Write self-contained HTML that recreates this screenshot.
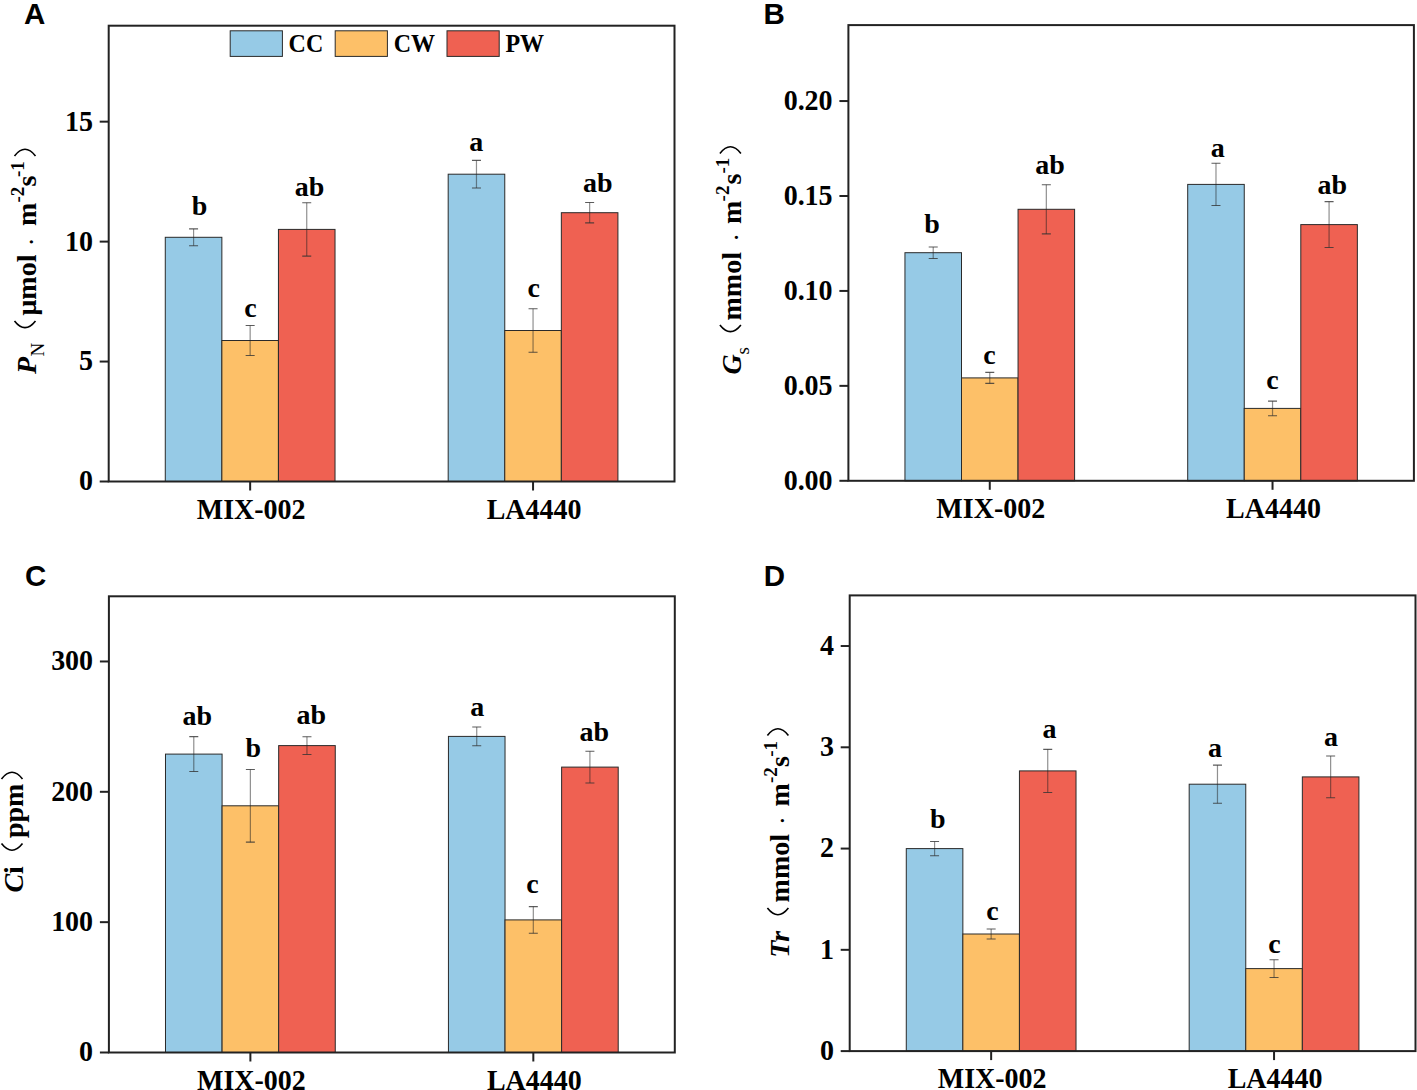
<!DOCTYPE html>
<html><head><meta charset="utf-8"><style>
html,body{margin:0;padding:0;background:#fff;overflow:hidden;}
svg{display:block;}
.s{font-family:"Liberation Serif", serif;font-weight:bold;font-size:28px;fill:#000;}
.n{font-family:"Liberation Serif", serif;font-weight:normal;font-size:28px;fill:#000;}
.bi{font-family:"Liberation Serif", serif;font-weight:bold;font-style:italic;font-size:28px;fill:#000;}
.sub{font-family:"Liberation Serif", serif;font-weight:normal;font-size:19px;fill:#000;}
.sup{font-family:"Liberation Serif", serif;font-weight:bold;font-size:19px;fill:#000;}
.lg{font-family:"Liberation Serif", serif;font-weight:bold;font-size:24px;fill:#000;}
.pl{font-family:"Liberation Sans", sans-serif;font-weight:bold;font-size:29.5px;fill:#000;}
</style></head><body>
<svg width="1417" height="1090" viewBox="0 0 1417 1090">
<rect width="1417" height="1090" fill="#fff"/>
<rect x="165.28" y="237.3" width="56.58" height="244.2" fill="#96CAE6" stroke="#2a2a2a" stroke-width="1"/>
<rect x="221.86" y="340.5" width="56.58" height="141" fill="#FDC068" stroke="#2a2a2a" stroke-width="1"/>
<rect x="278.44" y="229.4" width="56.58" height="252.1" fill="#EF6152" stroke="#2a2a2a" stroke-width="1"/>
<path d="M193.57 228.9V245.7" stroke="#222" stroke-opacity="0.5" stroke-width="1.2" fill="none"/>
<path d="M189.07 228.9H198.07M189.07 245.7H198.07" stroke="#333" stroke-opacity="0.8" stroke-width="1.1" fill="none"/>
<path d="M250.15 325.5V355.5" stroke="#222" stroke-opacity="0.5" stroke-width="1.2" fill="none"/>
<path d="M245.65 325.5H254.65M245.65 355.5H254.65" stroke="#333" stroke-opacity="0.8" stroke-width="1.1" fill="none"/>
<path d="M306.73 202.7V256.1" stroke="#222" stroke-opacity="0.5" stroke-width="1.2" fill="none"/>
<path d="M302.23 202.7H311.23M302.23 256.1H311.23" stroke="#333" stroke-opacity="0.8" stroke-width="1.1" fill="none"/>
<text x="199.42" y="214.5" class="s" text-anchor="middle">b</text>
<text x="250.35" y="317.1" class="s" text-anchor="middle">c</text>
<text x="309.58" y="196.2" class="s" text-anchor="middle">ab</text>
<rect x="448.18" y="174.2" width="56.58" height="307.3" fill="#96CAE6" stroke="#2a2a2a" stroke-width="1"/>
<rect x="504.76" y="330.5" width="56.58" height="151" fill="#FDC068" stroke="#2a2a2a" stroke-width="1"/>
<rect x="561.34" y="212.7" width="56.58" height="268.8" fill="#EF6152" stroke="#2a2a2a" stroke-width="1"/>
<path d="M476.47 160.4V188" stroke="#222" stroke-opacity="0.5" stroke-width="1.2" fill="none"/>
<path d="M471.97 160.4H480.97M471.97 188H480.97" stroke="#333" stroke-opacity="0.8" stroke-width="1.1" fill="none"/>
<path d="M533.05 308.8V352.2" stroke="#222" stroke-opacity="0.5" stroke-width="1.2" fill="none"/>
<path d="M528.55 308.8H537.55M528.55 352.2H537.55" stroke="#333" stroke-opacity="0.8" stroke-width="1.1" fill="none"/>
<path d="M589.63 202.5V222.9" stroke="#222" stroke-opacity="0.5" stroke-width="1.2" fill="none"/>
<path d="M585.13 202.5H594.13M585.13 222.9H594.13" stroke="#333" stroke-opacity="0.8" stroke-width="1.1" fill="none"/>
<text x="476.37" y="151.1" class="s" text-anchor="middle">a</text>
<text x="533.8" y="296.8" class="s" text-anchor="middle">c</text>
<text x="597.73" y="192.1" class="s" text-anchor="middle">ab</text>
<rect x="108.7" y="25.7" width="565.8" height="455.8" fill="none" stroke="#222" stroke-width="2"/>
<path d="M99.7 481.5H108.7" stroke="#222" stroke-width="2"/>
<text transform="translate(92.9,490.4) scale(1,1.05)" class="s" text-anchor="end">0</text>
<path d="M99.7 361.55H108.7" stroke="#222" stroke-width="2"/>
<text transform="translate(92.9,370.45) scale(1,1.05)" class="s" text-anchor="end">5</text>
<path d="M99.7 241.61H108.7" stroke="#222" stroke-width="2"/>
<text transform="translate(92.9,250.51) scale(1,1.05)" class="s" text-anchor="end">10</text>
<path d="M99.7 121.66H108.7" stroke="#222" stroke-width="2"/>
<text transform="translate(92.9,130.56) scale(1,1.05)" class="s" text-anchor="end">15</text>
<path d="M250.15 481.5V490.5" stroke="#222" stroke-width="2"/>
<text transform="translate(251.15,518.8) scale(1,1.04)" class="s" text-anchor="middle">MIX-002</text>
<path d="M533.05 481.5V490.5" stroke="#222" stroke-width="2"/>
<text transform="translate(534.05,518.8) scale(1,1.04)" class="s" text-anchor="middle">LA4440</text>
<text x="24.1" y="24.3" class="pl">A</text>
<rect x="904.95" y="252.7" width="56.55" height="228.1" fill="#96CAE6" stroke="#2a2a2a" stroke-width="1"/>
<rect x="961.5" y="377.9" width="56.55" height="102.9" fill="#FDC068" stroke="#2a2a2a" stroke-width="1"/>
<rect x="1018.05" y="209.3" width="56.55" height="271.5" fill="#EF6152" stroke="#2a2a2a" stroke-width="1"/>
<path d="M933.22 246.95V258.45" stroke="#222" stroke-opacity="0.5" stroke-width="1.2" fill="none"/>
<path d="M928.72 246.95H937.72M928.72 258.45H937.72" stroke="#333" stroke-opacity="0.8" stroke-width="1.1" fill="none"/>
<path d="M989.77 372.4V383.4" stroke="#222" stroke-opacity="0.5" stroke-width="1.2" fill="none"/>
<path d="M985.27 372.4H994.27M985.27 383.4H994.27" stroke="#333" stroke-opacity="0.8" stroke-width="1.1" fill="none"/>
<path d="M1046.33 184.7V233.9" stroke="#222" stroke-opacity="0.5" stroke-width="1.2" fill="none"/>
<path d="M1041.83 184.7H1050.83M1041.83 233.9H1050.83" stroke="#333" stroke-opacity="0.8" stroke-width="1.1" fill="none"/>
<text x="931.97" y="232.8" class="s" text-anchor="middle">b</text>
<text x="989.48" y="364.3" class="s" text-anchor="middle">c</text>
<text x="1050.12" y="173.6" class="s" text-anchor="middle">ab</text>
<rect x="1187.7" y="184.4" width="56.55" height="296.4" fill="#96CAE6" stroke="#2a2a2a" stroke-width="1"/>
<rect x="1244.25" y="408.4" width="56.55" height="72.4" fill="#FDC068" stroke="#2a2a2a" stroke-width="1"/>
<rect x="1300.8" y="224.6" width="56.55" height="256.2" fill="#EF6152" stroke="#2a2a2a" stroke-width="1"/>
<path d="M1215.98 163.25V205.55" stroke="#222" stroke-opacity="0.5" stroke-width="1.2" fill="none"/>
<path d="M1211.48 163.25H1220.48M1211.48 205.55H1220.48" stroke="#333" stroke-opacity="0.8" stroke-width="1.1" fill="none"/>
<path d="M1272.53 401.1V415.7" stroke="#222" stroke-opacity="0.5" stroke-width="1.2" fill="none"/>
<path d="M1268.03 401.1H1277.03M1268.03 415.7H1277.03" stroke="#333" stroke-opacity="0.8" stroke-width="1.1" fill="none"/>
<path d="M1329.08 201.65V247.55" stroke="#222" stroke-opacity="0.5" stroke-width="1.2" fill="none"/>
<path d="M1324.58 201.65H1333.58M1324.58 247.55H1333.58" stroke="#333" stroke-opacity="0.8" stroke-width="1.1" fill="none"/>
<text x="1217.73" y="157.1" class="s" text-anchor="middle">a</text>
<text x="1272.38" y="389.1" class="s" text-anchor="middle">c</text>
<text x="1332.38" y="194" class="s" text-anchor="middle">ab</text>
<rect x="848.4" y="25.1" width="565.5" height="455.7" fill="none" stroke="#222" stroke-width="2"/>
<path d="M839.4 480.8H848.4" stroke="#222" stroke-width="2"/>
<text transform="translate(832.6,489.7) scale(1,1.05)" class="s" text-anchor="end">0.00</text>
<path d="M839.4 385.86H848.4" stroke="#222" stroke-width="2"/>
<text transform="translate(832.6,394.76) scale(1,1.05)" class="s" text-anchor="end">0.05</text>
<path d="M839.4 290.93H848.4" stroke="#222" stroke-width="2"/>
<text transform="translate(832.6,299.82) scale(1,1.05)" class="s" text-anchor="end">0.10</text>
<path d="M839.4 195.99H848.4" stroke="#222" stroke-width="2"/>
<text transform="translate(832.6,204.89) scale(1,1.05)" class="s" text-anchor="end">0.15</text>
<path d="M839.4 101.05H848.4" stroke="#222" stroke-width="2"/>
<text transform="translate(832.6,109.95) scale(1,1.05)" class="s" text-anchor="end">0.20</text>
<path d="M989.77 480.8V489.8" stroke="#222" stroke-width="2"/>
<text transform="translate(990.77,518.1) scale(1,1.04)" class="s" text-anchor="middle">MIX-002</text>
<path d="M1272.53 480.8V489.8" stroke="#222" stroke-width="2"/>
<text transform="translate(1273.53,518.1) scale(1,1.04)" class="s" text-anchor="middle">LA4440</text>
<text x="763.5" y="23.9" class="pl">B</text>
<rect x="165.49" y="754.1" width="56.59" height="298.4" fill="#96CAE6" stroke="#2a2a2a" stroke-width="1"/>
<rect x="222.08" y="805.8" width="56.59" height="246.7" fill="#FDC068" stroke="#2a2a2a" stroke-width="1"/>
<rect x="278.67" y="745.6" width="56.59" height="306.9" fill="#EF6152" stroke="#2a2a2a" stroke-width="1"/>
<path d="M193.78 736.65V771.55" stroke="#222" stroke-opacity="0.5" stroke-width="1.2" fill="none"/>
<path d="M189.28 736.65H198.28M189.28 771.55H198.28" stroke="#333" stroke-opacity="0.8" stroke-width="1.1" fill="none"/>
<path d="M250.38 769.45V842.15" stroke="#222" stroke-opacity="0.5" stroke-width="1.2" fill="none"/>
<path d="M245.88 769.45H254.88M245.88 842.15H254.88" stroke="#333" stroke-opacity="0.8" stroke-width="1.1" fill="none"/>
<path d="M306.96 736.7V754.5" stroke="#222" stroke-opacity="0.5" stroke-width="1.2" fill="none"/>
<path d="M302.46 736.7H311.46M302.46 754.5H311.46" stroke="#333" stroke-opacity="0.8" stroke-width="1.1" fill="none"/>
<text x="197.34" y="725.3" class="s" text-anchor="middle">ab</text>
<text x="253.4" y="757.2" class="s" text-anchor="middle">b</text>
<text x="311.26" y="723.7" class="s" text-anchor="middle">ab</text>
<rect x="448.44" y="736.4" width="56.59" height="316.1" fill="#96CAE6" stroke="#2a2a2a" stroke-width="1"/>
<rect x="505.03" y="919.9" width="56.59" height="132.6" fill="#FDC068" stroke="#2a2a2a" stroke-width="1"/>
<rect x="561.62" y="767.1" width="56.59" height="285.4" fill="#EF6152" stroke="#2a2a2a" stroke-width="1"/>
<path d="M476.73 727.05V745.75" stroke="#222" stroke-opacity="0.5" stroke-width="1.2" fill="none"/>
<path d="M472.23 727.05H481.23M472.23 745.75H481.23" stroke="#333" stroke-opacity="0.8" stroke-width="1.1" fill="none"/>
<path d="M533.32 906.6V933.2" stroke="#222" stroke-opacity="0.5" stroke-width="1.2" fill="none"/>
<path d="M528.82 906.6H537.82M528.82 933.2H537.82" stroke="#333" stroke-opacity="0.8" stroke-width="1.1" fill="none"/>
<path d="M589.91 751.2V783" stroke="#222" stroke-opacity="0.5" stroke-width="1.2" fill="none"/>
<path d="M585.41 751.2H594.41M585.41 783H594.41" stroke="#333" stroke-opacity="0.8" stroke-width="1.1" fill="none"/>
<text x="477.34" y="716.3" class="s" text-anchor="middle">a</text>
<text x="532.55" y="893.1" class="s" text-anchor="middle">c</text>
<text x="594.26" y="740.8" class="s" text-anchor="middle">ab</text>
<rect x="108.9" y="596.3" width="565.9" height="456.2" fill="none" stroke="#222" stroke-width="2"/>
<path d="M99.9 1052.5H108.9" stroke="#222" stroke-width="2"/>
<text transform="translate(93.1,1061.4) scale(1,1.05)" class="s" text-anchor="end">0</text>
<path d="M99.9 922.16H108.9" stroke="#222" stroke-width="2"/>
<text transform="translate(93.1,931.06) scale(1,1.05)" class="s" text-anchor="end">100</text>
<path d="M99.9 791.81H108.9" stroke="#222" stroke-width="2"/>
<text transform="translate(93.1,800.71) scale(1,1.05)" class="s" text-anchor="end">200</text>
<path d="M99.9 661.47H108.9" stroke="#222" stroke-width="2"/>
<text transform="translate(93.1,670.37) scale(1,1.05)" class="s" text-anchor="end">300</text>
<path d="M250.38 1052.5V1061.5" stroke="#222" stroke-width="2"/>
<text transform="translate(251.38,1089.8) scale(1,1.04)" class="s" text-anchor="middle">MIX-002</text>
<path d="M533.32 1052.5V1061.5" stroke="#222" stroke-width="2"/>
<text transform="translate(534.32,1089.8) scale(1,1.04)" class="s" text-anchor="middle">LA4440</text>
<text x="25" y="586.3" class="pl">C</text>
<rect x="906.28" y="848.6" width="56.58" height="202.5" fill="#96CAE6" stroke="#2a2a2a" stroke-width="1"/>
<rect x="962.86" y="934" width="56.58" height="117.1" fill="#FDC068" stroke="#2a2a2a" stroke-width="1"/>
<rect x="1019.44" y="770.9" width="56.58" height="280.2" fill="#EF6152" stroke="#2a2a2a" stroke-width="1"/>
<path d="M934.57 841.45V855.75" stroke="#222" stroke-opacity="0.5" stroke-width="1.2" fill="none"/>
<path d="M930.07 841.45H939.07M930.07 855.75H939.07" stroke="#333" stroke-opacity="0.8" stroke-width="1.1" fill="none"/>
<path d="M991.15 928.95V939.05" stroke="#222" stroke-opacity="0.5" stroke-width="1.2" fill="none"/>
<path d="M986.65 928.95H995.65M986.65 939.05H995.65" stroke="#333" stroke-opacity="0.8" stroke-width="1.1" fill="none"/>
<path d="M1047.73 749.35V792.45" stroke="#222" stroke-opacity="0.5" stroke-width="1.2" fill="none"/>
<path d="M1043.23 749.35H1052.23M1043.23 792.45H1052.23" stroke="#333" stroke-opacity="0.8" stroke-width="1.1" fill="none"/>
<text x="937.74" y="828.4" class="s" text-anchor="middle">b</text>
<text x="992.35" y="920.3" class="s" text-anchor="middle">c</text>
<text x="1049.61" y="737.7" class="s" text-anchor="middle">a</text>
<rect x="1189.18" y="784.2" width="56.58" height="266.9" fill="#96CAE6" stroke="#2a2a2a" stroke-width="1"/>
<rect x="1245.76" y="968.6" width="56.58" height="82.5" fill="#FDC068" stroke="#2a2a2a" stroke-width="1"/>
<rect x="1302.34" y="776.9" width="56.58" height="274.2" fill="#EF6152" stroke="#2a2a2a" stroke-width="1"/>
<path d="M1217.47 765.15V803.25" stroke="#222" stroke-opacity="0.5" stroke-width="1.2" fill="none"/>
<path d="M1212.97 765.15H1221.97M1212.97 803.25H1221.97" stroke="#333" stroke-opacity="0.8" stroke-width="1.1" fill="none"/>
<path d="M1274.05 959.75V977.45" stroke="#222" stroke-opacity="0.5" stroke-width="1.2" fill="none"/>
<path d="M1269.55 959.75H1278.55M1269.55 977.45H1278.55" stroke="#333" stroke-opacity="0.8" stroke-width="1.1" fill="none"/>
<path d="M1330.63 756.05V797.75" stroke="#222" stroke-opacity="0.5" stroke-width="1.2" fill="none"/>
<path d="M1326.13 756.05H1335.13M1326.13 797.75H1335.13" stroke="#333" stroke-opacity="0.8" stroke-width="1.1" fill="none"/>
<text x="1214.99" y="757.4" class="s" text-anchor="middle">a</text>
<text x="1274.45" y="952.7" class="s" text-anchor="middle">c</text>
<text x="1331.11" y="745.5" class="s" text-anchor="middle">a</text>
<rect x="849.7" y="595.4" width="565.8" height="455.7" fill="none" stroke="#222" stroke-width="2"/>
<path d="M840.7 1051.1H849.7" stroke="#222" stroke-width="2"/>
<text transform="translate(833.9,1060) scale(1,1.05)" class="s" text-anchor="end">0</text>
<path d="M840.7 949.83H849.7" stroke="#222" stroke-width="2"/>
<text transform="translate(833.9,958.73) scale(1,1.05)" class="s" text-anchor="end">1</text>
<path d="M840.7 848.57H849.7" stroke="#222" stroke-width="2"/>
<text transform="translate(833.9,857.47) scale(1,1.05)" class="s" text-anchor="end">2</text>
<path d="M840.7 747.3H849.7" stroke="#222" stroke-width="2"/>
<text transform="translate(833.9,756.2) scale(1,1.05)" class="s" text-anchor="end">3</text>
<path d="M840.7 646.03H849.7" stroke="#222" stroke-width="2"/>
<text transform="translate(833.9,654.93) scale(1,1.05)" class="s" text-anchor="end">4</text>
<path d="M991.15 1051.1V1060.1" stroke="#222" stroke-width="2"/>
<text transform="translate(992.15,1088.4) scale(1,1.04)" class="s" text-anchor="middle">MIX-002</text>
<path d="M1274.05 1051.1V1060.1" stroke="#222" stroke-width="2"/>
<text transform="translate(1275.05,1088.4) scale(1,1.04)" class="s" text-anchor="middle">LA4440</text>
<text x="763.7" y="585.9" class="pl">D</text>
<rect x="230.2" y="30.8" width="52.2" height="25.6" fill="#96CAE6" stroke="#2a2a2a" stroke-width="1"/>
<text transform="translate(288.6,51.8) scale(1,1.06)" class="lg">CC</text>
<rect x="335.2" y="30.8" width="52.2" height="25.6" fill="#FDC068" stroke="#2a2a2a" stroke-width="1"/>
<text transform="translate(393.8,51.8) scale(1,1.06)" class="lg">CW</text>
<rect x="447" y="30.8" width="52.2" height="25.6" fill="#EF6152" stroke="#2a2a2a" stroke-width="1"/>
<text transform="translate(505.4,51.8) scale(1,1.06)" class="lg">PW</text>
<g transform="translate(36,374) rotate(-90)">
<text x="0" y="0" class="bi">P</text>
<text x="17.5" y="7.7" class="sub">N</text>
<text x="58.5" y="0" class="s">μmol</text>
<text x="127.6" y="4.7" class="n">·</text>
<text x="148" y="0" class="s">m</text>
<text x="171.5" y="-12" class="sup">-2</text>
<text x="187.5" y="0" class="s">s</text>
<text x="197" y="-12" class="sup">-1</text>
</g>
<path d="M14.5 320.9Q25 334.3 35.5 320.9" stroke="#000" stroke-width="1.6" fill="none"/>
<path d="M14.5 155.9Q25 142.5 35.5 155.9" stroke="#000" stroke-width="1.6" fill="none"/>
<g transform="translate(741.4,374) rotate(-90)">
<text x="-0.5" y="0" class="bi">G</text>
<text x="19.5" y="7.2" class="sub">s</text>
<text x="53.5" y="0" class="s">mmol</text>
<text x="131.9" y="5" class="n">·</text>
<text x="150.1" y="0" class="s">m</text>
<text x="172.6" y="-12" class="sup">-2</text>
<text x="189.5" y="0" class="s">s</text>
<text x="200.5" y="-12" class="sup">-1</text>
</g>
<path d="M719.9 324.9Q730.4 338.3 740.9 324.9" stroke="#000" stroke-width="1.6" fill="none"/>
<path d="M719.9 153.5Q730.4 140.1 740.9 153.5" stroke="#000" stroke-width="1.6" fill="none"/>
<g transform="translate(22.7,891.1) rotate(-90)">
<text x="-1.5" y="0" class="bi">C</text>
<text x="17" y="0" class="s">i</text>
<text x="53" y="0" class="s">ppm</text>
</g>
<path d="M1.5 843.6Q12 857 22.5 843.6" stroke="#000" stroke-width="1.6" fill="none"/>
<path d="M1.5 778.9Q12 765.5 22.5 778.9" stroke="#000" stroke-width="1.6" fill="none"/>
<g transform="translate(788.6,955.6) rotate(-90)">
<text x="-2.2" y="0" class="bi">Tr</text>
<text x="53.2" y="0" class="s">mmol</text>
<text x="130.25" y="3.8" class="n">·</text>
<text x="149" y="0" class="s">m</text>
<text x="172.6" y="-12" class="sup">-2</text>
<text x="188.6" y="0" class="s">s</text>
<text x="198.8" y="-12" class="sup">-1</text>
</g>
<path d="M767.4 908.1Q777.9 921.5 788.4 908.1" stroke="#000" stroke-width="1.6" fill="none"/>
<path d="M767.4 735.5Q777.9 722.1 788.4 735.5" stroke="#000" stroke-width="1.6" fill="none"/>
</svg>
</body></html>
